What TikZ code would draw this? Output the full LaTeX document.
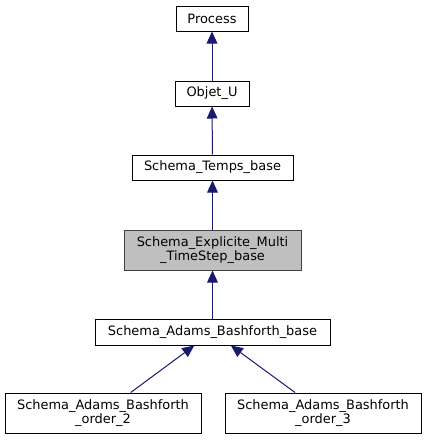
\documentclass[tikz,border=0pt]{standalone}
\usepackage{fontspec}
\setmainfont{DejaVu Sans}
\usetikzlibrary{arrows.meta}
\definecolor{edgeblue}{HTML}{191970}
\definecolor{curfill}{HTML}{BFBFBF}
\tikzset{
  cls/.style={draw=black, line width=0.75pt, fill=white, inner sep=0pt, align=center,
    font=\fontsize{9.7pt}{10.5pt}\selectfont},
  cur/.style={cls, fill=curfill, draw=black!75},
  inh/.style={draw=edgeblue, line width=0.75pt, -{Triangle[length=9pt,width=8pt]}, shorten >=0pt},
}
\begin{document}
\begin{tikzpicture}[x=0.75pt,y=-0.75pt]
\useasboundingbox (0,0) rectangle (427,440);
\node[cls, minimum width=72*0.75pt, minimum height=25*0.75pt] (process) at (212,18.5) {Process};
\node[cls, minimum width=74*0.75pt, minimum height=25*0.75pt] (objet) at (212,93.5) {Objet\_U};
\node[cls, minimum width=161*0.75pt, minimum height=25*0.75pt] (stb) at (212.5,167.5) {Schema\_Temps\_base};
\node[cur, minimum width=177*0.75pt, minimum height=40*0.75pt] (sem) at (212.5,250) {Schema\_Explicite\_Multi\\\_TimeStep\_base};
\node[cls, minimum width=235*0.75pt, minimum height=26*0.75pt] (sab) at (212.5,332) {Schema\_Adams\_Bashforth\_base};
\node[cls, minimum width=196*0.75pt, minimum height=40*0.75pt] (o2) at (103,413) {Schema\_Adams\_Bashforth\\\_order\_2};
\node[cls, minimum width=196*0.75pt, minimum height=40*0.75pt] (o3) at (323,413) {Schema\_Adams\_Bashforth\\\_order\_3};
\draw[inh] (objet) -- (process);
\draw[inh] (stb) -- (objet);
\draw[inh] (sem) -- (stb);
\draw[inh] (sab) -- (sem);
\draw[inh] (o2) -- (sab);
\draw[inh] (o3) -- (sab);
\end{tikzpicture}
\end{document}
